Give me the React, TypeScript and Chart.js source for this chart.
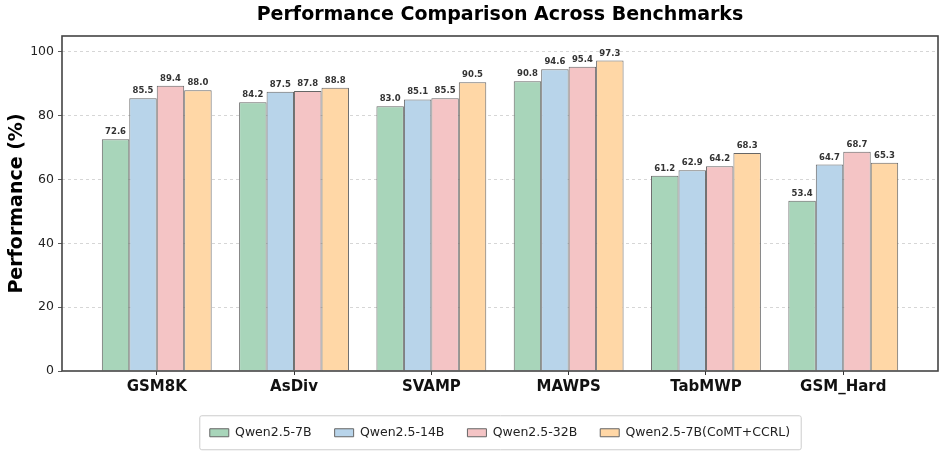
import React, { useEffect, useRef } from "react";
import { Chart, registerables } from "chart.js";

Chart.register(...registerables);

const categories = ["GSM8K", "AsDiv", "SVAMP", "MAWPS", "TabMWP", "GSM_Hard"];
const seriesNames = ["Qwen2.5-7B", "Qwen2.5-14B", "Qwen2.5-32B", "Qwen2.5-7B(CoMT+CCRL)"];
const qwen7b = [72.6, 84.2, 83.0, 90.8, 61.2, 53.4];
const qwen14b = [85.5, 87.5, 85.1, 94.6, 62.9, 64.7];
const qwen32b = [89.4, 87.8, 85.5, 95.4, 64.2, 68.7];
const qwen7bComt = [88.0, 88.8, 90.5, 97.3, 68.3, 65.3];
const yTicks = [0, 20, 40, 60, 80, 100];

const seriesValues = [qwen7b, qwen14b, qwen32b, qwen7bComt];
const fillColors = ["#A8D5BA", "#B8D4EA", "#F4C4C5", "#FFD7A6"];

const FONT = "'DejaVu Sans', 'Liberation Sans', sans-serif";

const frameAndLabels = {
  id: "frameAndLabels",
  afterDatasetsDraw(chart: any) {
    const ctx = chart.ctx;
    ctx.save();
    ctx.font = `bold 8.5px ${FONT}`;
    ctx.fillStyle = "#333";
    ctx.textAlign = "center";
    ctx.textBaseline = "bottom";
    chart.data.datasets.forEach((ds: any, di: number) => {
      const meta = chart.getDatasetMeta(di);
      meta.data.forEach((bar: any, i: number) => {
        const v = ds.data[i].y;
        ctx.fillText(v.toFixed(1), bar.x, bar.y - 3);
      });
    });
    ctx.restore();
  },
  afterDraw(chart: any) {
    const ctx = chart.ctx;
    const a = chart.chartArea;
    ctx.save();
    ctx.strokeStyle = "#444";
    ctx.lineWidth = 1.6;
    ctx.strokeRect(a.left, a.top, a.right - a.left, a.bottom - a.top);
    // legend frame
    const lg = chart.legend;
    if (lg && lg.legendHitBoxes && lg.legendHitBoxes.length) {
      const boxes = lg.legendHitBoxes;
      const first = boxes[0];
      const last = boxes[boxes.length - 1];
      const x0 = first.left - 10;
      const x1 = last.left + last.width + 11;
      const cy = first.top + first.height / 2;
      const y0 = cy - 17;
      const y1 = cy + 17;
      ctx.strokeStyle = "#cccccc";
      ctx.lineWidth = 1;
      ctx.beginPath();
      const r = 2;
      ctx.moveTo(x0 + r, y0);
      ctx.lineTo(x1 - r, y0);
      ctx.quadraticCurveTo(x1, y0, x1, y0 + r);
      ctx.lineTo(x1, y1 - r);
      ctx.quadraticCurveTo(x1, y1, x1 - r, y1);
      ctx.lineTo(x0 + r, y1);
      ctx.quadraticCurveTo(x0, y1, x0, y1 - r);
      ctx.lineTo(x0, y0 + r);
      ctx.quadraticCurveTo(x0, y0, x0 + r, y0);
      ctx.stroke();
    }
    ctx.restore();
  },
};

export default function App() {
  const canvasRef = useRef<HTMLCanvasElement | null>(null);

  useEffect(() => {
    if (!canvasRef.current) return;
    Chart.defaults.font.family = FONT;
    const chart = new Chart(canvasRef.current, {
      type: "bar",
      data: {
        datasets: seriesNames.map((name, si) => ({
          label: name,
          data: seriesValues[si].map((v, i) => ({ x: i, y: v })),
          backgroundColor: fillColors[si],
          borderColor: "#666666",
          borderWidth: 1,
          categoryPercentage: 0.8,
          barPercentage: 1.0,
        })),
      },
      options: {
        responsive: false,
        animation: false,
        layout: { padding: { left: 0, right: 8, top: 0, bottom: 7 } },
        scales: {
          x: {
            type: "linear",
            min: -0.69,
            max: 5.69,
            offset: false,
            afterBuildTicks: (axis: any) => {
              axis.ticks = categories.map((_, i) => ({ value: i }));
            },
            afterFit: (scale: any) => {
              scale.height = 32.5;
            },
            ticks: {
              callback: (value: any) => categories[Math.round(Number(value))] ?? "",
              font: { size: 15, weight: "bold" },
              color: "#111",
              padding: 3,
              maxRotation: 0,
              autoSkip: false,
            },
            grid: {
              display: true,
              offset: false,
              drawOnChartArea: false,
              drawTicks: true,
              tickLength: 4,
              tickColor: "#333",
              color: "#333",
            },
            border: { display: false },
          },
          y: {
            min: 0,
            max: 105,
            afterBuildTicks: (axis: any) => {
              axis.ticks = yTicks.map((v) => ({ value: v }));
            },
            afterFit: (scale: any) => {
              scale.width = 62;
            },
            ticks: {
              font: { size: 12.5 },
              color: "#222",
              padding: 4,
            },
            grid: {
              color: (ctx: any) => (ctx.tick && ctx.tick.value === 0 ? "rgba(0,0,0,0)" : "#cccccc"),
              lineWidth: 0.8,
              drawTicks: true,
              tickLength: 4,
              tickColor: "#333",
              tickBorderDash: [],
            },
            border: { display: false, dash: [3, 3] },
            title: {
              display: true,
              text: "Performance (%)",
              font: { size: 19, weight: "bold" },
              color: "#000",
              padding: { top: 6, bottom: 0 },
            },
          },
        },
        plugins: {
          title: {
            display: true,
            text: "Performance Comparison Across Benchmarks",
            font: { size: 19, weight: "bold" },
            color: "#000",
            padding: { top: 4, bottom: 9.2 },
            fullSize: false,
          },
          legend: {
            display: true,
            position: "bottom",
            fullSize: false,
            labels: {
              boxWidth: 19,
              boxHeight: 8,
              padding: 23,
              font: { size: 12.5 },
              color: "#222",
            },
          },
          tooltip: { enabled: false },
        },
      },
      plugins: [frameAndLabels],
    } as any);
    return () => chart.destroy();
  }, []);

  return (
    <div style={{ position: "absolute", left: 0, top: 0, width: 946, height: 456, background: "#fff" }}>
      <canvas ref={canvasRef} width={946} height={456} />
    </div>
  );
}
